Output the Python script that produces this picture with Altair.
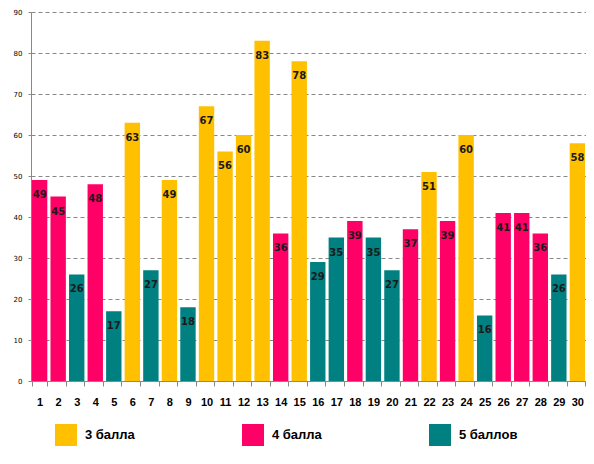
import altair as alt
import pandas as pd

# номера заданий, результаты и категория балла
tasks = list(range(1, 31))
values = [49, 45, 26, 48, 17, 63, 27, 49, 18, 67,
          56, 60, 83, 36, 78, 29, 35, 39, 35, 27,
          37, 51, 39, 60, 16, 41, 41, 36, 26, 58]
grades = ["4 балла", "4 балла", "5 баллов", "4 балла", "5 баллов",
          "3 балла", "5 баллов", "3 балла", "5 баллов", "3 балла",
          "3 балла", "3 балла", "3 балла", "4 балла", "3 балла",
          "5 баллов", "5 баллов", "4 балла", "5 баллов", "5 баллов",
          "4 балла", "3 балла", "4 балла", "3 балла", "5 баллов",
          "4 балла", "4 балла", "4 балла", "5 баллов", "3 балла"]
grade_order = ["3 балла", "4 балла", "5 баллов"]
grade_colors = ["#FFC000", "#FF0066", "#008080"]
y_ticks = list(range(0, 91, 10))

df = pd.DataFrame({"task": tasks, "value": values, "grade": grades})

x_enc = alt.X(
    "task:O",
    title=None,
    scale=alt.Scale(paddingInner=0.17, paddingOuter=0.05),
    axis=alt.Axis(
        labelAngle=0, tickBand="extent", labelPadding=10,
        labelFont="Liberation Sans", labelFontSize=11, labelFontWeight="bold",
        labelColor="#000000", domainColor="#888888", tickColor="#888888",
        tickSize=5, grid=False,
    ),
)
y_enc = alt.Y(
    "value:Q",
    title=None,
    scale=alt.Scale(domain=[0, 90], nice=False),
    axis=alt.Axis(
        values=y_ticks, labelFont="DejaVu Sans", labelFontSize=7,
        labelColor="#000000", domainColor="#888888", tickColor="#888888",
        tickSize=3, labelPadding=6, gridColor="#888888", gridDash=[4, 3],
        gridWidth=1,
    ),
)

bars = alt.Chart(df).mark_bar().encode(
    x=x_enc,
    y=y_enc,
    color=alt.Color(
        "grade:N",
        scale=alt.Scale(domain=grade_order, range=grade_colors),
        legend=alt.Legend(
            title=None, orient="none", legendX=24, legendY=412,
            direction="horizontal", columns=3, gridAlign="all",
            symbolType="square", symbolSize=484,
            symbolStrokeWidth=0, symbolOpacity=1, labelFont="Liberation Sans",
            labelFontSize=13, labelFontWeight="bold", labelColor="#000000",
            labelOffset=8, columnPadding=98,
        ),
    ),
)

labels = alt.Chart(df).mark_text(
    baseline="middle", dy=15, font="DejaVu Sans", fontSize=10,
    fontWeight="bold", color="#1a1a1a",
).encode(
    x=alt.X("task:O"),
    y=alt.Y("value:Q"),
    text="value:Q",
)

chart = (bars + labels).properties(
    width=555,
    height=369,
    autosize=alt.AutoSizeParams(type="none"),
    padding={"left": 23, "top": 4, "right": 0, "bottom": 70},
).configure_view(stroke=None).configure_axisY(domain=True, ticks=True)

chart.save("out.html", embed_options={"renderer": "svg", "actions": False})
